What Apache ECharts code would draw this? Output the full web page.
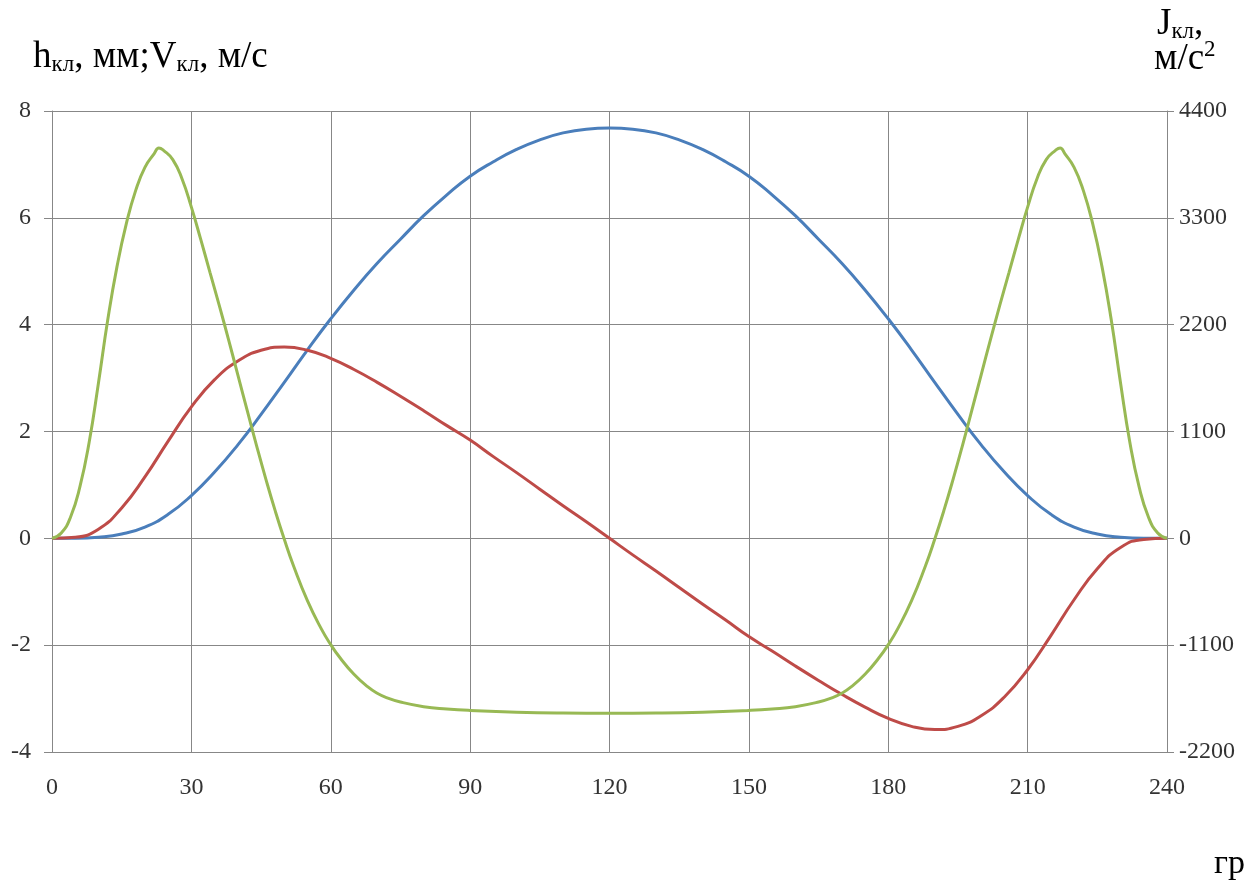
<!DOCTYPE html>
<html>
<head>
<meta charset="utf-8">
<script src="https://cdn.jsdelivr.net/npm/echarts/dist/echarts.min.js"></script>
<style>
html,body{margin:0;padding:0;background:#fff;}
#chart{width:1248px;height:887px;}
</style>
</head>
<body>
<div id="chart"></div>
<script>
// Angle (degrees) for h and V series
const angles = [0,5,10,15,20,25,30,35,40,45,50,55,60,65,70,75,80,85,90,95,100,105,110,115,120,
  125,130,135,140,145,150,155,160,165,170,175,180,185,190,195,200,205,210,215,220,225,230,235,240];
// Lift h, mm (left axis)
const hValues = [0,0,0.02,0.08,0.21,0.45,0.8,1.24,1.75,2.32,2.92,3.53,4.11,4.65,5.15,5.6,6.04,6.43,6.78,7.05,7.28,7.46,7.59,7.66,7.68,
  7.66,7.59,7.46,7.28,7.05,6.78,6.43,6.04,5.6,5.15,4.65,4.11,3.53,2.92,2.32,1.75,1.24,0.8,0.45,0.21,0.08,0.02,0,0];
// Velocity V, m/s (left axis)
const vValues = [0,0.02,0.17,0.57,1.15,1.82,2.46,2.97,3.32,3.52,3.58,3.52,3.37,3.16,2.92,2.66,2.39,2.11,1.84,1.53,1.23,0.92,0.61,0.31,0,
  -0.31,-0.61,-0.92,-1.23,-1.53,-1.84,-2.11,-2.39,-2.66,-2.92,-3.16,-3.37,-3.52,-3.58,-3.52,-3.32,-2.97,-2.46,-1.82,-1.15,-0.57,-0.17,-0.02,0];
// Angle (degrees) for acceleration series
const anglesJ = [0,2,4,6,8,10,12,14,16,18,20,22,23,24,26,28,30,32,34,36,38,40,42,44,46,48,50,52,55,58,60,62,65,68,70,72,75,80,85,90,100,110,120,
  130,140,150,155,160,165,168,170,172,175,178,180,182,185,188,190,192,194,196,198,200,202,204,206,208,210,212,214,216,217,218,220,222,224,226,228,230,232,234,236,238,240];
// Acceleration J, m/s^2 (right axis)
const jValues = [0,55,220,530,990,1600,2250,2800,3240,3580,3820,3960,4020,3995,3900,3700,3410,3080,2739,2398,2046,1683,1320,960,615,290,-10,-285,-645,-935,-1095,-1230,-1400,-1530,-1595,-1640,-1685,-1733,-1757,-1772,-1790,-1798,-1800,
  -1798,-1790,-1772,-1757,-1733,-1685,-1640,-1595,-1530,-1400,-1230,-1095,-935,-645,-285,-10,290,615,960,1320,1683,2046,2398,2739,3080,3410,3700,3900,3995,4020,3960,3820,3580,3240,2800,2250,1600,990,530,220,55,0];

const xTicks = {min:0, max:240, interval:30};
const leftTicks = {min:-4, max:8, interval:2};
const rightTicks = {min:-2200, max:4400, interval:1100};

const pairs = (xs, ys) => xs.map((x, i) => [x, ys[i]]);

const gridColor = '#878787';
const labelFont = {fontFamily:'Liberation Serif', fontSize:24, color:'#333333'};
const chart = echarts.init(document.getElementById('chart'), null, {renderer:'canvas'});

const mainStyle = {fontFamily:'Liberation Serif', fontSize:37, fill:'#000', verticalAlign:'bottom', lineHeight:40};
const subStyle = {fontFamily:'Liberation Serif', fontSize:23, fill:'#000', verticalAlign:'bottom', lineHeight:33};
const supStyle = {fontFamily:'Liberation Serif', fontSize:23, fill:'#000', verticalAlign:'top', lineHeight:32};

chart.setOption({
  animation:false,
  backgroundColor:'#ffffff',
  grid:{left:52, right:81, top:111, bottom:135, containLabel:false},
  xAxis:{
    type:'value', min:xTicks.min, max:xTicks.max, interval:xTicks.interval,
    axisLine:{show:true, onZero:false, lineStyle:{color:gridColor, width:1}},
    axisTick:{show:false},
    splitLine:{show:true, lineStyle:{color:gridColor, width:1}},
    axisLabel:Object.assign({margin:24}, labelFont)
  },
  yAxis:[{
    type:'value', position:'left', min:leftTicks.min, max:leftTicks.max, interval:leftTicks.interval,
    axisLine:{show:true, onZero:false, lineStyle:{color:gridColor, width:1}},
    axisTick:{show:true, length:8, lineStyle:{color:gridColor}},
    splitLine:{show:true, lineStyle:{color:gridColor, width:1}},
    axisLabel:Object.assign({margin:21}, labelFont)
  },{
    type:'value', position:'right', min:rightTicks.min, max:rightTicks.max, interval:rightTicks.interval,
    axisLine:{show:true, onZero:false, lineStyle:{color:gridColor, width:1}},
    axisTick:{show:true, length:7, lineStyle:{color:gridColor}},
    splitLine:{show:false},
    axisLabel:Object.assign({margin:12, formatter:(v) => String(v)}, labelFont)
  }],
  series:[{
    name:'h', type:'line', yAxisIndex:0, data:pairs(angles, hValues),
    showSymbol:false, smooth:0.5, lineStyle:{color:'#4A7EBB', width:3}, itemStyle:{color:'#4A7EBB'}
  },{
    name:'V', type:'line', yAxisIndex:0, data:pairs(angles, vValues),
    showSymbol:false, smooth:0.5, lineStyle:{color:'#BE4B48', width:3}, itemStyle:{color:'#BE4B48'}
  },{
    name:'J', type:'line', yAxisIndex:1, data:pairs(anglesJ, jValues),
    showSymbol:false, smooth:0.5, lineStyle:{color:'#98B954', width:3}, itemStyle:{color:'#98B954'}
  }],
  graphic:[{
    type:'text', left:33, top:39,
    style:{
      text:'{m|h}{s|кл}{m|, мм;V}{s|кл}{m|, м/с}',
      rich:{m:mainStyle, s:subStyle}
    }
  },{
    type:'text', left:1157, top:6,
    style:{
      text:'{m|J}{s|кл}{m|,}',
      rich:{m:mainStyle, s:subStyle}
    }
  },{
    type:'text', left:1154, top:38,
    style:{
      text:'{m|м/с}{p|2}',
      rich:{m:mainStyle, p:supStyle}
    }
  },{
    type:'text', left:1214, top:847,
    style:{text:'гр', fontFamily:'Liberation Serif', fontSize:34, fill:'#000'}
  }]
});
</script>
</body>
</html>
